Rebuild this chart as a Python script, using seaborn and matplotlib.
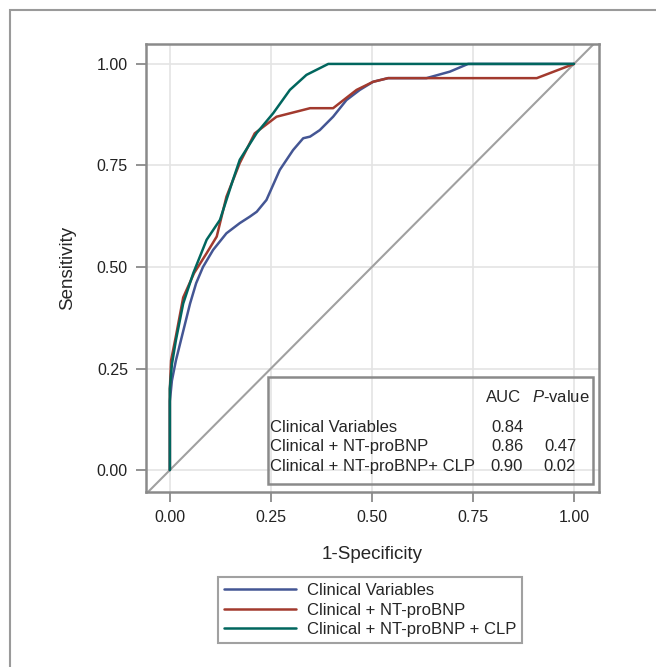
"""
ROC curves for clinical model vs. added NT-proBNP and CLP
"""
import matplotlib
matplotlib.use("Agg")
import matplotlib.pyplot as plt
from matplotlib.patches import Rectangle
import pandas as pd
import seaborn as sns

# curve points (1-specificity, sensitivity)
clin_x = [0, 0, 0.005, 0.015, 0.03, 0.05, 0.065, 0.082, 0.107, 0.140, 0.173, 0.198, 0.215,
          0.239, 0.272, 0.305, 0.330, 0.347, 0.371, 0.404, 0.437, 0.470, 0.503, 0.540,
          0.635, 0.693, 0.738, 1.0]
clin_y = [0, 0.17, 0.22, 0.27, 0.33, 0.41, 0.46, 0.50, 0.542, 0.583, 0.608, 0.624, 0.636,
          0.665, 0.739, 0.788, 0.817, 0.821, 0.837, 0.870, 0.911, 0.936, 0.956, 0.965,
          0.965, 0.981, 1.0, 1.0]

bnp_x = [0, 0, 0.003, 0.015, 0.033, 0.06, 0.091, 0.116, 0.140, 0.173, 0.210, 0.231, 0.264,
         0.347, 0.404, 0.462, 0.503, 0.540, 0.908, 1.0]
bnp_y = [0, 0.2, 0.27, 0.33, 0.425, 0.485, 0.534, 0.575, 0.673, 0.756, 0.829, 0.845, 0.870,
         0.891, 0.891, 0.936, 0.956, 0.965, 0.965, 1.0]

clp_x = [0, 0, 0.005, 0.015, 0.033, 0.058, 0.091, 0.124, 0.156, 0.173, 0.215, 0.256, 0.297,
         0.338, 0.392, 1.0]
clp_y = [0, 0.2, 0.26, 0.32, 0.41, 0.485, 0.567, 0.616, 0.714, 0.764, 0.83, 0.879, 0.936,
         0.973, 1.0, 1.0]

models = ["Clinical Variables", "Clinical + NT-proBNP", "Clinical + NT-proBNP + CLP"]
table_names = ["Clinical Variables", "Clinical + NT-proBNP", "Clinical + NT-proBNP+ CLP"]
auc = ["0.84", "0.86", "0.90"]
pvals = ["", "0.47", "0.02"]
colors = ["#445694", "#A23A2E", "#01665E"]

frames = []
for name, xs, ys in zip(models, [clin_x, bnp_x, clp_x], [clin_y, bnp_y, clp_y]):
    frames.append(pd.DataFrame({"fpr": xs, "tpr": ys, "model": name}))
df = pd.concat(frames, ignore_index=True)

sns.set_style("white")
plt.rcParams['font.family'] = ['Liberation Sans', 'DejaVu Sans']
plt.rcParams['mathtext.fontset'] = 'custom'
plt.rcParams['mathtext.it'] = 'Liberation Sans:italic'
plt.rcParams['mathtext.rm'] = 'Liberation Sans'

fig = plt.figure(figsize=(6.56, 6.67), dpi=100)
ax = fig.add_axes([0.2226, 0.2624, 0.6905, 0.6716])

# outer border
fig.patches.append(Rectangle((10 / 656, -0.1), 2.0, 1 - 10 / 667 + 0.1, transform=fig.transFigure,
                             fill=False, edgecolor="#9a9a9a", linewidth=1.5))

ax.grid(True, color="#e4e4e4", linewidth=1.2)
ax.set_axisbelow(True)
ax.axline((0, 0), slope=1, color="#a0a0a0", linewidth=1.5, zorder=1)

sns.lineplot(data=df, x="fpr", y="tpr", hue="model", hue_order=models, palette=colors,
             estimator=None, sort=False, units="model", linewidth=1.8, ax=ax, zorder=3)

ax.set_xlim(-0.059, 1.062)
ax.set_ylim(-0.054, 1.049)
ticks = [0, 0.25, 0.5, 0.75, 1.0]
ax.set_xticks(ticks)
ax.set_yticks(ticks)
ax.set_xticklabels([f"{t:.2f}" for t in ticks])
ax.set_yticklabels([f"{t:.2f}" for t in ticks])
ax.tick_params(axis="both", direction="out", length=7, width=1.2, color="#808080",
               labelsize=11.5, labelcolor="#222222", pad=6, bottom=True, left=True)
for s in ax.spines.values():
    s.set_color("#8a8a8a")
    s.set_linewidth(1.8)
ax.set_xlabel("1-Specificity", fontsize=13.5, labelpad=15)
ax.set_ylabel("Sensitivity", fontsize=13.5, labelpad=15)

# inset AUC table
ax.add_patch(Rectangle((0.270, 0.0172), 0.7175, 0.2388, transform=ax.transAxes, fill=False,
                       edgecolor="#8a8a8a", linewidth=1.8, zorder=4))
fs = 12
ax.text(0.790, 0.200, "AUC", transform=ax.transAxes, ha="center", va="baseline", fontsize=fs)
ax.text(0.915, 0.200, r"$\it{P}$-value", transform=ax.transAxes, ha="center", va="baseline", fontsize=fs)
for ypos, nm, a, p in zip([0.1435, 0.101, 0.0565], table_names, auc, pvals):
    ax.text(0.274, ypos, nm, transform=ax.transAxes, ha="left", va="center", fontsize=fs)
    ax.text(0.797, ypos, a, transform=ax.transAxes, ha="center", va="center", fontsize=fs)
    ax.text(0.914, ypos, p, transform=ax.transAxes, ha="center", va="center", fontsize=fs)

ax.get_legend().remove()
handles, labels = ax.get_legend_handles_labels()
leg = fig.legend(handles, labels, loc="upper left", bbox_to_anchor=(218 / 656, 1 - 577 / 667),
                 frameon=True, fancybox=False, fontsize=fs, handlelength=4.3, handletextpad=0.7,
                 borderpad=0.35, labelspacing=0.28, borderaxespad=0)
leg.get_frame().set_edgecolor("#8a8a8a")
leg.get_frame().set_linewidth(1.5)

fig.savefig("out.png", dpi=100)
